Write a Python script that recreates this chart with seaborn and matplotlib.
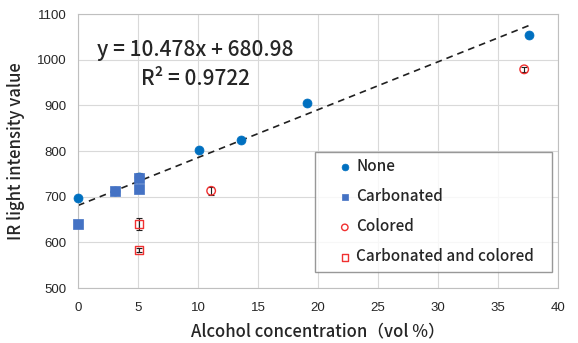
import numpy as np
import pandas as pd
import matplotlib
matplotlib.use("Agg")
import matplotlib.pyplot as plt
import seaborn as sns

# series data
none_x = [0, 3.1, 5.1, 10.1, 13.6, 19.1, 37.6]
none_y = [698, 712, 743, 803, 824, 905, 1055]
none_err = [0, 0, 8, 0, 0, 0, 0]

carb_x = [0, 3.1, 5.1, 5.1]
carb_y = [640, 713, 742, 716]
carb_err = [0, 6, 6, 0]

col_x = [11.1, 37.2]
col_y = [713, 979]
col_err = [9, 5]

carbcol_x = [5.1, 5.1]
carbcol_y = [640, 583]
carbcol_err = [13, 4]

# trendline reported on the chart
slope, intercept = 10.478, 680.98
r2 = 0.9722
trend_x = [0, 37.6]

JP = ['Noto Sans CJK JP', 'DejaVu Sans']

sns.set_style("white")
plt.rcParams['font.family'] = ['Liberation Sans', 'Noto Sans CJK JP', 'DejaVu Sans']

fig, ax = plt.subplots(figsize=(5.78, 3.43), dpi=100)
fig.subplots_adjust(left=0.135, right=0.965, bottom=0.16, top=0.959)

series = [
    ("None", none_x, none_y, none_err, "o", "#0070C0", True),
    ("Carbonated", carb_x, carb_y, carb_err, "s", "#4472C4", True),
    ("Colored", col_x, col_y, col_err, "o", "#F03030", False),
    ("Carbonated and colored", carbcol_x, carbcol_y, carbcol_err, "s", "#F03030", False),
]

tx = np.array(trend_x)
ax.plot(tx, slope * tx + intercept, color="#202020", linestyle=(0, (4, 3)), linewidth=1.2, zorder=2)

for name, xs, ys, errs, mk, colr, filled in series:
    ax.errorbar(xs, ys, yerr=errs, fmt="none", ecolor="#202020", elinewidth=0.8,
                capsize=2, capthick=0.8, zorder=3)
    df = pd.DataFrame({"x": xs, "y": ys})
    if filled:
        sns.scatterplot(data=df, x="x", y="y", marker=mk, color=colr, s=42,
                        edgecolor=colr, linewidth=0.5, ax=ax, label=name, zorder=4,
                        clip_on=False)
    else:
        sns.scatterplot(data=df, x="x", y="y", marker=mk, facecolor="none", s=38,
                        edgecolor=colr, linewidth=1.0, ax=ax, label=name, zorder=4,
                        clip_on=False)

ax.set_xlim(0, 40)
ax.set_ylim(500, 1100)
ax.set_xticks(range(0, 41, 5))
ax.set_yticks(range(500, 1101, 100))
ax.grid(True, color="#D9D9D9", linewidth=0.8)
ax.set_axisbelow(True)
for sp in ax.spines.values():
    sp.set_color("#BFBFBF")
    sp.set_linewidth(0.8)
ax.tick_params(axis="both", labelsize=9.5, length=0, colors="#404040")
ax.tick_params(axis="x", pad=10)
ax.tick_params(axis="y", pad=8)
ax.tick_params(axis="both", labelcolor="#262626")

ax.set_xlabel("Alcohol concentration（vol %）", fontsize=12, labelpad=6,
              family=JP, weight="medium")
ax.set_ylabel("IR light intensity value", fontsize=12, labelpad=9,
              family=JP, weight="medium")

ax.text(9.75, 1022, f"y = {slope}x + {intercept}", fontsize=15, ha="center", va="center",
        family=JP, weight="medium")
ax.text(9.75, 958, f"R² = {r2}", fontsize=15, ha="center", va="center",
        family=JP, weight="medium")

leg = ax.legend(loc="lower left", bbox_to_anchor=(0.494, 0.058, 0.4935, 0.427),
                mode="expand", frameon=True, fancybox=False,
                edgecolor="#7F7F7F", fontsize=11, labelspacing=0.85, borderpad=0.45,
                handlelength=3.0, handletextpad=-0.75, markerscale=0.75, borderaxespad=0)
leg.get_frame().set_linewidth(1.0)
for t in leg.get_texts():
    t.set_family(JP)
    t.set_weight("medium")

plt.savefig("out.png", dpi=100)
